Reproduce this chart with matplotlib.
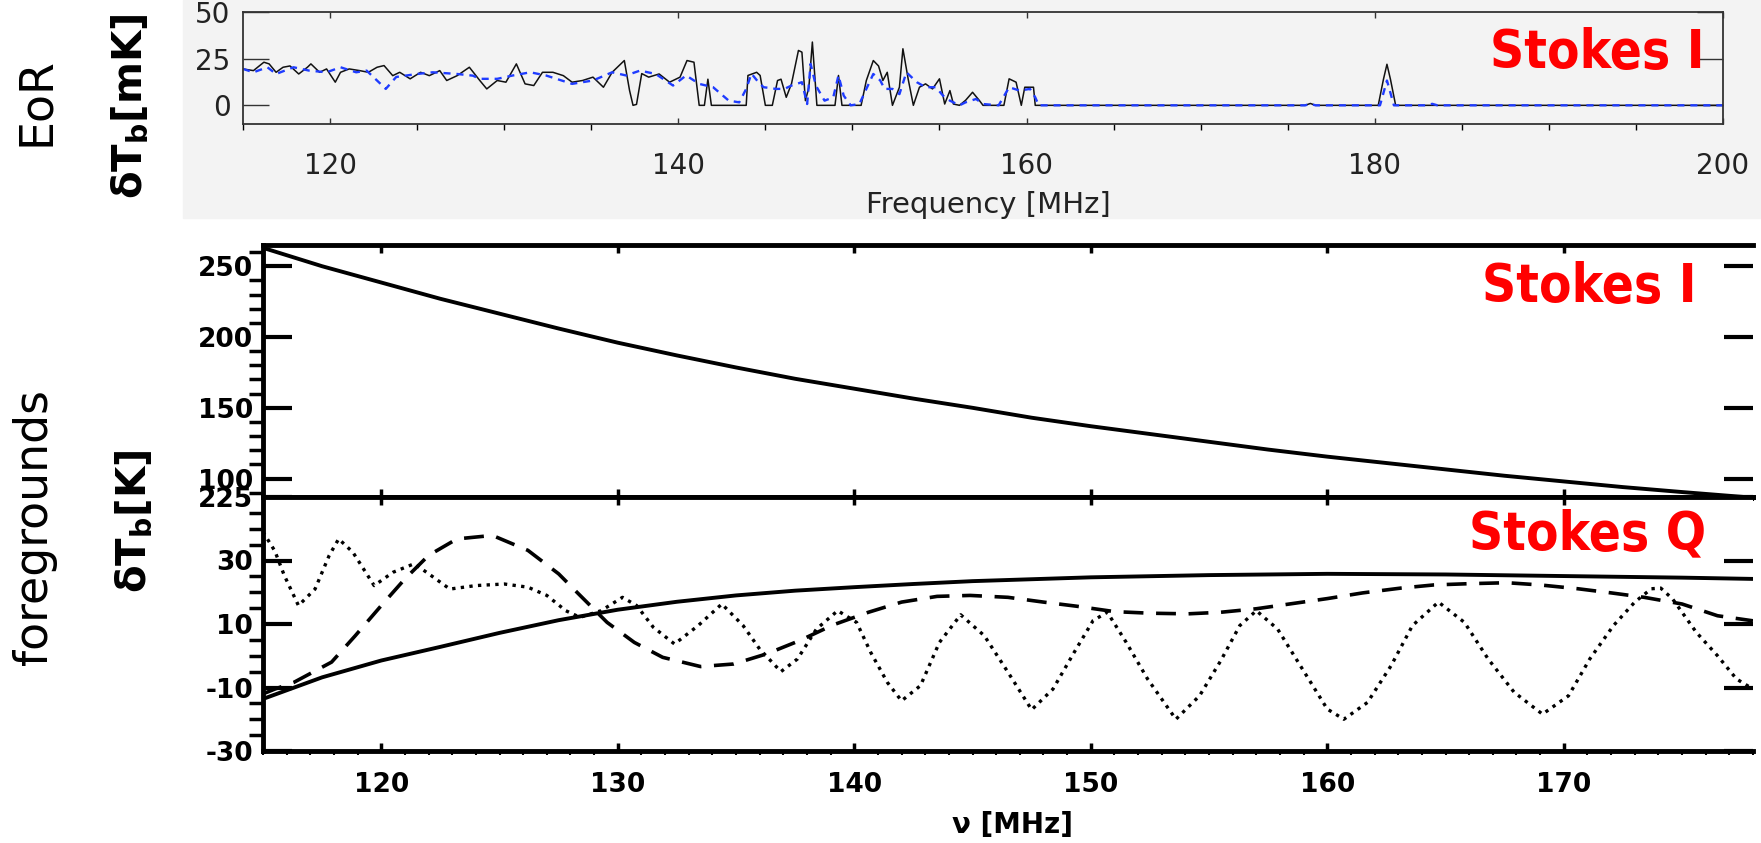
import matplotlib
matplotlib.use("Agg")
import matplotlib.pyplot as plt
from matplotlib.patches import Rectangle
from matplotlib.ticker import MultipleLocator, FixedLocator, FixedFormatter

plt.rcParams['font.family'] = ['DejaVu Sans']
plt.rcParams['mathtext.fontset'] = 'dejavusans'
plt.rcParams['mathtext.default'] = 'bf'

# ---- EoR panel (top): brightness temperature in mK ----
eor_black_freq = [115.0, 115.6, 116.2, 116.5, 116.9, 117.3, 117.7, 118.2, 118.7, 118.9,
                  119.4, 119.8, 120.3, 120.6, 121.1, 121.7, 122.2, 122.7, 123.1, 123.6,
                  124.0, 124.6, 125.2, 125.7, 126.3, 126.7, 127.3, 128.0, 128.6, 129.0,
                  129.6, 130.1, 130.7, 131.2, 131.7, 132.2, 132.8, 133.4, 133.9, 134.5,
                  135.1, 135.7, 136.2, 136.9, 137.2, 137.4, 137.6, 137.9, 138.3, 138.9,
                  139.5, 140.1, 140.5, 140.9, 141.2, 141.5, 141.7, 141.9, 143.9, 144.0,
                  144.5, 144.7, 145.0, 145.4, 145.7, 145.9, 146.2, 146.5, 146.9, 147.1,
                  147.3, 147.5, 147.7, 147.96, 149.0, 149.2, 149.4, 150.5, 150.8, 151.2,
                  151.5, 151.75, 152.0, 152.3, 152.7, 152.9, 153.2, 153.5, 153.85, 154.2,
                  154.6, 155.0, 155.3, 155.6, 155.8, 156.15, 156.5, 156.9, 157.3, 157.5,
                  158.7, 159.0, 159.4, 159.7, 159.9, 160.4, 160.5, 176.0, 176.3, 176.6,
                  180.2, 180.5, 180.7, 180.9, 181.2, 200.0]
eor_black_val = [19.5, 18.6, 23.1, 22.2, 17.7, 20.4, 21.1, 16.8, 20.4, 22.2,
                 17.7, 19.5, 12.4, 17.7, 19.5, 18.6, 17.7, 20.4, 21.3, 15.9,
                 17.7, 14.2, 17.7, 15.9, 18.6, 13.3, 15.9, 20.4, 13.3, 8.8,
                 13.3, 12.4, 22.2, 11.5, 10.6, 17.7, 17.7, 15.9, 12.4, 13.3,
                 15.1, 9.7, 17.7, 24.0, 8.0, 0.0, 0.5, 17.0, 15.1, 16.8,
                 12.4, 15.1, 24.0, 23.1, 0.0, 0.0, 14.0, 0.0, 0.0, 16.0,
                 17.7, 16.0, 0.0, 0.0, 13.3, 14.0, 4.3, 11.5, 29.4, 28.5,
                 2.5, 9.7, 33.9, 0.0, 0.0, 16.0, 0.0, 0.0, 13.3, 24.0,
                 21.1, 13.3, 17.7, 0.0, 9.7, 30.3, 14.2, 0.0, 9.7, 11.5,
                 8.8, 14.2, 0.7, 7.9, 0.7, 0.0, 2.7, 7.0, 2.5, 0.0,
                 0.0, 14.2, 12.4, 0.0, 9.7, 9.7, 0.0, 0.0, 1.0, 0.0,
                 0.0, 14.0, 22.0, 14.0, 0.0, 0.0]

eor_blue_freq = [115.0, 115.6, 116.4, 116.9, 117.9, 118.8, 119.8, 120.6, 121.5, 122.1,
                 122.9, 123.2, 123.8, 125.0, 125.9, 127.3, 128.2, 128.6, 129.6, 130.5,
                 131.5, 132.4, 133.9, 135.1, 136.2, 137.0, 137.8, 138.7, 139.7, 140.45,
                 141.2, 142.0, 142.9, 143.5, 143.9, 144.2, 144.6, 144.9, 145.25, 145.6,
                 146.1, 146.5, 147.1, 147.4, 147.6, 147.9, 148.4, 148.9, 149.2, 149.5,
                 149.9, 150.4, 150.8, 151.2, 151.6, 151.85, 152.3, 152.7, 153.1, 153.7,
                 154.2, 154.8, 155.2, 155.6, 156.15, 156.5, 157.1, 157.5, 158.4, 159.0,
                 159.6, 160.2, 160.5, 160.7, 176.0, 176.3, 176.6, 180.3, 180.7, 181.1,
                 183.0, 183.3, 183.6, 200.0]
eor_blue_val = [19.5, 17.7, 20.4, 16.8, 20.4, 18.6, 17.7, 20.4, 17.7, 18.6,
                11.5, 8.8, 15.2, 16.8, 17.7, 16.8, 15.9, 14.2, 14.2, 16.0,
                17.7, 16.0, 11.5, 13.3, 17.7, 16.0, 18.6, 16.8, 10.6, 16.0,
                11.5, 9.7, 2.5, 1.6, 8.8, 17.0, 12.4, 9.7, 9.3, 8.8,
                8.8, 10.6, 12.4, 0.7, 22.2, 10.6, 2.5, 4.3, 16.0, 5.2,
                0.0, 0.7, 8.8, 16.8, 13.3, 8.8, 8.8, 6.0, 17.7, 12.4,
                9.7, 9.7, 5.2, 2.5, 0.0, 1.6, 3.4, 0.7, 0.0, 9.7,
                7.9, 8.8, 4.3, 0.0, 0.0, 0.8, 0.0, 0.0, 13.3, 0.0,
                0.0, 0.8, 0.0, 0.0]

# ---- foregrounds, Stokes I (middle) in K ----
fg_i_freq = [115, 117.5, 120, 122.5, 125, 127.5, 130, 132.5, 135, 137.5, 140, 142.5, 145,
             147.5, 150, 152.5, 155, 157.5, 160, 162.5, 165, 167.5, 170, 172.5, 175, 178]
fg_i_val = [263, 250, 238.5, 227, 216.5, 206, 196, 187, 178.5, 170.5, 163.5, 156.5, 150,
            143, 137, 131.5, 126, 120.5, 115.5, 111, 106.5, 102, 98, 94, 90.5, 86.5]

# ---- foregrounds, Stokes Q (bottom) in K ----
fg_q_solid_freq = [115, 117.5, 120, 122.5, 125, 127.5, 130, 132.5, 135, 137.5, 140, 142.5,
                   145, 150, 155, 160, 165, 170, 175, 178]
fg_q_solid_val = [-13.6, -6.8, -1.5, 2.8, 7.2, 11.2, 14.5, 17, 19, 20.5, 21.6, 22.6,
                  23.5, 24.7, 25.4, 25.8, 25.6, 25.1, 24.6, 24.2]

fg_q_dash_freq = [115, 115.5, 116.3, 117.9, 118.9, 120, 121, 122, 123.2, 124.7, 126.2, 127.5,
                  128.3, 129.55, 130.7, 131.9, 133.5, 134.9, 136.3, 137.7, 139.1, 140.6, 142,
                  143.5, 144.9, 146.5, 148, 149.4, 151, 152.5, 154.1, 155.5, 157, 158.4, 160,
                  161.5, 163.1, 164.5, 166, 167.6, 169, 170.6, 172, 173.4, 175, 176.5, 178]
fg_q_dash_val = [-12, -10.5, -8.4, -2, 6.3, 15.8, 24.2, 31.6, 36.8, 37.9, 33.2, 25.8,
                 19.8, 10.5, 4.2, -0.5, -3.4, -2.6, 0.6, 4.8, 9.7, 13.7, 16.9,
                 18.7, 19, 18.4, 16.9, 15.6, 13.9, 13.4, 13.2, 13.7, 14.8, 16.3, 18,
                 19.8, 21.3, 22.3, 22.7, 23, 22.3, 21.1, 19.8, 18.4, 16.3, 12.6, 11]

fg_q_dot_freq = [115, 115.5, 115.9, 116.5, 117.2, 117.8, 118.2, 118.8, 119.7, 120.5, 121.4,
                 122.1, 122.9, 124, 125.2, 126.2, 127, 127.8, 128.4, 129.3, 130.2, 130.8,
                 131.5, 132.4, 133.4, 134.4, 135.3, 136, 136.9, 137.6, 138.4, 139.3, 140.1,
                 140.7, 141.4, 142, 142.8, 143.6, 144.5, 145.5, 146.5, 147.5, 148.4, 149.3,
                 150.1, 150.7, 151.5, 152.4, 153.6, 154.6, 155.5, 156.3, 157, 157.9, 158.9,
                 160, 160.7, 161.7, 162.7, 163.6, 164.7, 165.8, 166.8, 167.9, 169.1, 170.2,
                 171.1, 172.1, 173, 173.7, 174.1, 174.6, 175.6, 176.5, 177.3, 178]
fg_q_dot_val = [39, 33, 25.3, 15.8, 21, 31.6, 36.8, 32.6, 22.1, 26.3, 29,
                25.3, 21, 22.1, 22.6, 21.6, 19, 14.2, 12.1, 14.2, 18.4, 15.8,
                9, 3.7, 9.5, 16.3, 9.5, 2.1, -5, -1, 8.4, 14.2, 10.5,
                1, -8.4, -14.2, -9.4, 4.2, 12.9, 6.3, -5.2, -17, -10.5, 1.1,
                11.1, 13.7, 4.2, -7.3, -20, -12.6, -1.5, 9.5, 14.2, 8.4, -3.6,
                -16.8, -20, -14.7, -3.1, 9.5, 16.9, 10.5, -1, -11.5, -18.4, -12.6,
                -1, 9.5, 16.9, 21.1, 21.3, 17.9, 7.4, 0, -7.3, -10.5]

eor_ticks = [0, 25, 50]
eor_xticks = [120, 140, 160, 180, 200]
fg_i_ticks = [100, 150, 200, 250]
fg_q_ticks = [-30, -10, 10, 30, 50]
fg_q_ticklabels = ['-30', '-10', '10', '30', '225']
fg_xticks = [120, 130, 140, 150, 160, 170]

W, H = 1761, 843


def fx(px):
    return px / W


def fy(py):
    return 1 - py / H


def main():
    fig = plt.figure(figsize=(W / 100, H / 100), dpi=100)
    fig.patches.append(Rectangle((fx(183), fy(218)), 1 - fx(183), 218 / H,
                                 transform=fig.transFigure, color='#f3f3f3', zorder=-10))

    # top panel
    ax0 = fig.add_axes([fx(243), fy(124), 1480 / W, 112 / H], facecolor='#f3f3f3')
    ax0.set_zorder(2)
    ax0.plot(eor_black_freq, eor_black_val, color='#111111', lw=1.1)
    ax0.plot(eor_blue_freq, eor_blue_val, color='#1f3cff', lw=1.7, dashes=(3, 2.5))
    ax0.set_xlim(115, 200)
    ax0.set_ylim(-10, 50)
    ax0.set_yticks(eor_ticks)
    ax0.set_yticklabels([str(t) for t in eor_ticks])
    ax0.set_xticks(eor_xticks)
    ax0.xaxis.set_minor_locator(MultipleLocator(5))
    ax0.tick_params(direction='in', top=True, right=True, colors='#333333',
                    labelcolor='#222222', labelsize=20)
    ax0.tick_params(axis='y', which='major', length=19, width=1, pad=9)
    ax0.tick_params(axis='x', which='both', length=4, width=1, pad=20)
    for s in ax0.spines.values():
        s.set_color('#333333')
        s.set_linewidth(1.3)
    fig.text(fx(988), fy(205), 'Frequency [MHz]', fontsize=21, color='#222222',
             ha='center', va='center')

    # middle panel
    ax1 = fig.add_axes([fx(263), fy(497), 1490 / W, 252 / H])
    ax1.plot(fg_i_freq, fg_i_val, color='k', lw=2.8)
    ax1.set_xlim(115, 178)
    ax1.set_ylim(87, 265)
    ax1.set_yticks(fg_i_ticks)
    ax1.yaxis.set_minor_locator(MultipleLocator(10))

    # bottom panel
    ax2 = fig.add_axes([fx(263), fy(751), 1490 / W, 254 / H])
    ax2.plot(fg_q_solid_freq, fg_q_solid_val, color='k', lw=2.8)
    ax2.plot(fg_q_dash_freq, fg_q_dash_val, color='k', lw=2.6, dashes=(5.5, 3.5))
    ax2.plot(fg_q_dot_freq, fg_q_dot_val, color='k', lw=2.4, dashes=(1.0, 1.6))
    ax2.set_xlim(115, 178)
    ax2.set_ylim(-30, 50)
    ax2.yaxis.set_major_locator(FixedLocator(fg_q_ticks))
    ax2.yaxis.set_major_formatter(FixedFormatter(fg_q_ticklabels))
    ax2.yaxis.set_minor_locator(MultipleLocator(5))

    for ax in (ax1, ax2):
        ax.set_xticks(fg_xticks)
        ax.xaxis.set_minor_locator(MultipleLocator(1))
        ax.tick_params(direction='in', top=True, right=True, labelsize=19)
        ax.tick_params(axis='y', which='major', length=21, width=3, pad=7)
        ax.tick_params(axis='y', which='minor', length=10, width=2.5)
        ax.tick_params(axis='x', which='major', length=6, width=2.5, pad=15)
        ax.tick_params(axis='x', which='minor', length=3, width=1.5)
        for name in ('left', 'top', 'bottom'):
            ax.spines[name].set_linewidth(3.5)
        ax.spines['right'].set_visible(False)
        for lab in ax.get_xticklabels() + ax.get_yticklabels():
            lab.set_fontweight('bold')
    ax1.tick_params(labelbottom=False)
    fig.text(fx(1013), fy(825), 'ν [MHz]', fontsize=20, fontweight='bold',
             ha='center', va='center')

    # left labels
    fig.text(fx(37), fy(102), 'EoR', rotation=90, fontsize=33, ha='center', va='center')
    fig.text(fx(130), fy(106), r'$\delta T_b$[mK]', rotation=90, fontsize=29,
             fontweight='bold', ha='center', va='center')
    fig.text(fx(35), fy(527), 'foregrounds', rotation=90, fontsize=33,
             ha='center', va='center')
    fig.text(fx(134), fy(521), r'$\delta T_b$[K]', rotation=90, fontsize=29,
             fontweight='bold', ha='center', va='center')

    # red panel tags
    for x, y, s in [(1597, 53, 'Stokes I'), (1589, 287, 'Stokes I'), (1588, 534, 'Stokes Q')]:
        fig.text(fx(x), fy(y), s, fontsize=38, fontweight='bold', color='#ff0000',
                 fontstretch='condensed', ha='center', va='center', zorder=5)

    fig.savefig('out.png', dpi=100)


if __name__ == "__main__":
    main()
